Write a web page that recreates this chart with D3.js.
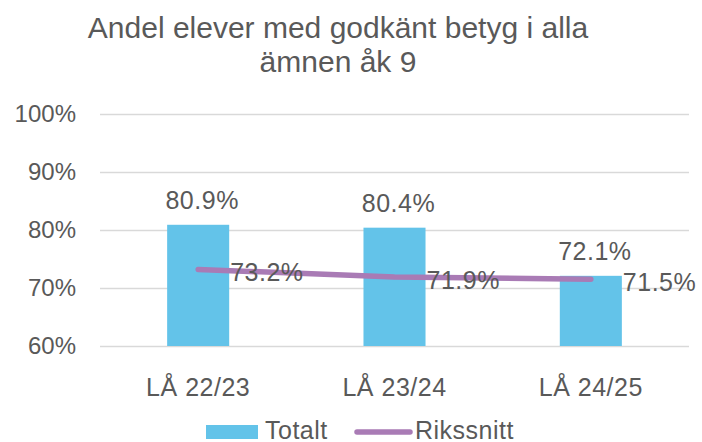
<!DOCTYPE html>
<html>
<head>
<meta charset="utf-8">
<script src="https://cdn.jsdelivr.net/npm/d3@7"></script>
<style>
  body { margin: 0; background: #fff; }
  svg text { font-family: "Liberation Sans", Arial, sans-serif; fill: #595959; }
</style>
</head>
<body>
<div id="container"></div>
<script>
// data
const categories = ["LÅ 22/23", "LÅ 23/24", "LÅ 24/25"];
const totalt = [80.9, 80.4, 72.1];
const rikssnitt = [73.2, 71.9, 71.5];
const yTicks = [60, 70, 80, 90, 100];
const titleLines = ["Andel elever med godkänt betyg i alla", "ämnen åk 9"];

const width = 702, height = 442;
const barColor = "#63c3e9", lineColor = "#a97bb5";
const labelSize = "25px";

const svg = d3.select("#container").append("svg")
  .attr("width", width)
  .attr("height", height);

const x = d3.scaleBand().domain(categories).range([100, 689]).paddingInner(0.684).paddingOuter(0.342);
const y = d3.scaleLinear().domain([60, 100]).range([346, 114]);
const fmt = d => d.toFixed(1) + "%";

// title
svg.append("g").selectAll("text")
  .data(titleLines)
  .enter().append("text")
    .attr("x", 338)
    .attr("y", (d, i) => 38 + i * 34)
    .attr("text-anchor", "middle")
    .style("font-size", "30px")
    .text(d => d);

// grid lines + y labels
const yAxis = svg.append("g")
  .attr("transform", "translate(100,0)")
  .call(d3.axisLeft(y).tickValues(yTicks).tickSize(-589).tickPadding(24).tickFormat(d => d + "%"));
yAxis.select(".domain").remove();
yAxis.selectAll(".tick line").attr("stroke", "#d9d9d9").attr("stroke-width", 1.5);
yAxis.selectAll(".tick text").style("font-size", "24px").attr("fill", "#595959");

// x labels
const xAxis = svg.append("g")
  .attr("transform", "translate(0,346)")
  .call(d3.axisBottom(x).tickSize(0).tickPadding(32));
xAxis.select(".domain").remove();
xAxis.selectAll(".tick text").style("font-size", labelSize).style("letter-spacing", "0.5px").attr("fill", "#595959");

// bars
svg.append("g").selectAll("rect")
  .data(totalt)
  .enter().append("rect")
    .attr("x", (d, i) => x(categories[i]))
    .attr("y", d => y(d))
    .attr("width", x.bandwidth())
    .attr("height", d => y(60) - y(d))
    .attr("fill", barColor);

svg.append("g").selectAll("text")
  .data(totalt)
  .enter().append("text")
    .attr("x", (d, i) => x(categories[i]) + x.bandwidth() / 2 + 4)
    .attr("y", d => y(d) - 16)
    .attr("text-anchor", "middle")
    .style("font-size", labelSize)
    .style("letter-spacing", "0.5px")
    .text(fmt);

// line
const cx = i => x(categories[i]) + x.bandwidth() / 2;
const line = d3.line().x((d, i) => cx(i)).y(d => y(d));
svg.append("path")
  .datum(rikssnitt)
  .attr("d", line)
  .attr("fill", "none")
  .attr("stroke", lineColor)
  .attr("stroke-width", 5.5)
  .attr("stroke-linecap", "round")
  .attr("stroke-linejoin", "round");

svg.append("g").selectAll("text")
  .data(rikssnitt)
  .enter().append("text")
    .attr("x", (d, i) => cx(i) + 32)
    .attr("y", d => y(d) + 12)
    .style("font-size", labelSize)
    .style("letter-spacing", "0.5px")
    .text(fmt);

// legend
const legend = svg.append("g");
legend.append("rect")
  .attr("x", 206).attr("y", 425).attr("width", 52).attr("height", 14)
  .attr("fill", barColor);
legend.append("text")
  .attr("x", 265).attr("y", 439)
  .style("font-size", labelSize)
  .style("letter-spacing", "0.5px")
  .text("Totalt");
legend.append("line")
  .attr("x1", 357).attr("x2", 410).attr("y1", 432).attr("y2", 432)
  .attr("stroke", lineColor).attr("stroke-width", 5.5).attr("stroke-linecap", "round");
legend.append("text")
  .attr("x", 415).attr("y", 439)
  .style("font-size", labelSize)
  .style("letter-spacing", "0.5px")
  .text("Rikssnitt");
</script>
</body>
</html>
